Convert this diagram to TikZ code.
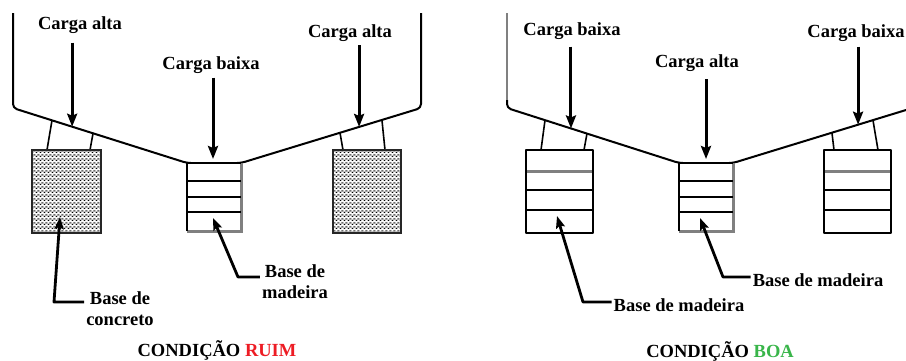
\documentclass[tikz,border=0pt]{standalone}
\usepackage{fontspec}
\setmainfont{Liberation Serif}
\usetikzlibrary{arrows.meta,patterns,calc}

\definecolor{ruim}{RGB}{237,28,36}
\definecolor{boa}{RGB}{57,181,74}

% speckled concrete texture: dark and light grains on a grey ground
\pgfdeclarepatterninherentlycolored{concretegrain}{\pgfpointorigin}{\pgfpoint{4pt}{4pt}}{\pgfpoint{4pt}{4pt}}{%
  \pgfsetfillcolor{gray!50}%
  \pgfpathrectangle{\pgfpointorigin}{\pgfpoint{4pt}{4pt}}\pgfusepath{fill}%
  \pgfsetfillcolor{black}%
  \pgfpathrectangle{\pgfpoint{0pt}{0pt}}{\pgfpoint{1.3pt}{1.3pt}}%
  \pgfpathrectangle{\pgfpoint{2pt}{2pt}}{\pgfpoint{1.3pt}{1.3pt}}\pgfusepath{fill}%
  \pgfsetfillcolor{white}%
  \pgfpathrectangle{\pgfpoint{2pt}{0pt}}{\pgfpoint{1.4pt}{1.4pt}}%
  \pgfpathrectangle{\pgfpoint{0pt}{2pt}}{\pgfpoint{1.4pt}{1.4pt}}\pgfusepath{fill}%
}

\tikzset{
  lbl/.style={font=\fontsize{18.5}{21.5}\selectfont\bfseries, inner sep=2pt, align=center},
  load/.style={line width=3pt, -{Stealth[length=13pt,width=10pt,inset=2pt]}},
  leader/.style={line width=2.8pt, line join=round, -{Stealth[length=12pt,width=9pt,inset=2pt]}},
  frame/.style={line width=2pt, line join=round},
  leg/.style={line width=1.6pt},
  concrete/.style={line width=2.6pt, draw=black!85, pattern=concretegrain},
  plank/.style={line width=2pt},
  grayplank/.style={line width=3pt, draw=gray},
  shadowedge/.style={line width=3pt, draw=gray},
}

\begin{document}
\begin{tikzpicture}[x=1pt,y=-1pt]
\useasboundingbox (0,0) rectangle (906,360);

% ================= left panel: bad arrangement =================
% hopper outline
\coordinate (L0) at (13,13);
\coordinate (L1) at (13,108);
\coordinate (M1) at (187,163);
\coordinate (M2) at (241,163);
\coordinate (R1) at (421,108);
\coordinate (R0) at (421,13);
\draw[frame, rounded corners=4pt] (L0) -- (L1) -- (M1) -- (M2) -- (R1) -- (R0);

% points on the sloped sides
\path (L1) -- (M1) coordinate[pos=0.224] (lgA) coordinate[pos=0.46] (lgB) coordinate[pos=0.34] (ldA);
\path (M2) -- (R1) coordinate[pos=0.55] (lgC) coordinate[pos=0.783] (lgD) coordinate[pos=0.656] (ldC);

% concrete bases and their struts
\draw[leg] (lgA) -- (47,150);
\draw[leg] (lgB) -- (90,150);
\draw[leg] (lgC) -- (343,150);
\draw[leg] (lgD) -- (385,150);
\draw[concrete] (32,150) rectangle (101,233);
\draw[concrete] (333,150) rectangle (401,233);

% timber base under the middle
\fill[white] (187,163) rectangle (241,231);
\draw[shadowedge] (241,163) -- (241,231) -- (187,231);
\draw[frame] (241,163) -- (187,163) -- (187,231);
\foreach \yy in {181,197,212} \draw[plank] (187,\yy) -- (241,\yy);

% loads
\node[lbl] (la1) at (80,25) {Carga alta};
\node[lbl] (lb1) at (211,65) {Carga baixa};
\node[lbl] (la2) at (350,33.5) {Carga alta};
\coordinate (ldB) at (213,159);
\draw[load, shorten <=7pt] (la1.south -| ldA) -- (ldA);
\draw[load, shorten <=2pt] (lb1.south -| ldB) -- (ldB);
\draw[load, shorten <=1pt] (la2.south -| ldC) -- (ldC);

% callouts
\node[lbl] (lc) at (120,308.5) {Base de\\concreto};
\node[lbl] (lm) at (295,281.5) {Base de\\madeira};
\coordinate (ctA) at (60,217);
\coordinate (cbA) at (54,302);
\coordinate (ctB) at (213,218);
\coordinate (cbB) at (238,277);
\draw[leader] (lc.west |- cbA) -- (cbA) -- (ctA);
\draw[leader] (lm.west |- cbB) -- (cbB) -- (ctB);

\node[lbl, anchor=base] (cr) at (217,356) {CONDIÇÃO \textcolor{ruim}{RUIM}};

% ================= right panel: good arrangement =================
\coordinate (P0) at (507,13);
\coordinate (P1) at (507,108);
\coordinate (N1) at (679,163);
\coordinate (N2) at (733,163);
\coordinate (Q1) at (906,110);
\draw[frame, gray] (P0) -- (507,102);
\draw[frame, rounded corners=4pt] (507,100) -- (P1) -- (N1) -- (N2) -- (Q1);

\path (P1) -- (N1) coordinate[pos=0.221] (rgA) coordinate[pos=0.465] (rgB) coordinate[pos=0.372] (rdA);
\path (N2) -- (Q1) coordinate[pos=0.572] (rgC) coordinate[pos=0.809] (rgD) coordinate[pos=0.723] (rdC);

% timber bases on the sides
\draw[leg] (rgA) -- (541,150);
\draw[leg] (rgB) -- (584,150);
\draw[leg] (rgC) -- (834,150);
\draw[leg] (rgD) -- (878,150);
\foreach \xa/\xb in {526/593, 824/891}{
  \fill[white] (\xa,150) rectangle (\xb,233);
  \draw[grayplank] (\xa,171) -- (\xb,171);
  \draw[plank] (\xa,190) -- (\xb,190);
  \draw[plank] (\xa,210) -- (\xb,210);
  \draw[frame] (\xa,150) rectangle (\xb,233);
}

% timber base under the middle
\fill[white] (679,163) rectangle (733,231);
\draw[shadowedge] (733,163) -- (733,231) -- (679,231);
\draw[frame] (733,163) -- (679,163) -- (679,231);
\foreach \yy in {181,197,212} \draw[plank] (679,\yy) -- (733,\yy);

% loads
\node[lbl] (rb1) at (572,31) {Carga baixa};
\node[lbl] (ra1) at (697,63.5) {Carga alta};
\node[lbl] (rb2) at (856,33) {Carga baixa};
\coordinate (rdB) at (706,159);
\draw[load, shorten <=5pt] (rb1.south -| rdA) -- (rdA);
\draw[load, shorten <=5pt] (ra1.south -| rdB) -- (rdB);
\draw[load, shorten <=3pt] (rb2.south -| rdC) -- (rdC);

% callouts
\node[lbl] (rm1) at (679,305) {Base de madeira};
\node[lbl] (rm2) at (818,280) {Base de madeira};
\coordinate (rtA) at (557,216);
\coordinate (rbA) at (583,302);
\coordinate (rtB) at (700,218);
\coordinate (rbB) at (723,277);
\draw[leader] (rm1.west |- rbA) -- (rbA) -- (rtA);
\draw[leader] (rm2.west |- rbB) -- (rbB) -- (rtB);

\node[lbl, anchor=base] (cb) at (720,357.5) {CONDIÇÃO \textcolor{boa}{BOA}};
\end{tikzpicture}
\end{document}
